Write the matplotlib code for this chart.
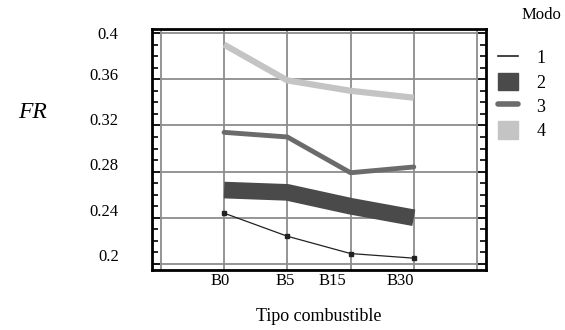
import matplotlib
matplotlib.use("Agg")
import matplotlib.pyplot as plt
import matplotlib.transforms as mtransforms
from matplotlib.lines import Line2D
from matplotlib.patches import Patch
import numpy as np

plt.rcParams['font.family'] = ['Liberation Serif', 'DejaVu Serif']

# data
fuels = ['B0', 'B5', 'B15', 'B30']
modo_1 = [0.244, 0.224, 0.209, 0.205]
modo_2 = [0.264, 0.262, 0.250, 0.240]
modo_3 = [0.314, 0.310, 0.279, 0.284]
modo_4 = [0.390, 0.359, 0.350, 0.344]
modes = ['1', '2', '3', '4']
y_ticks = [0.2, 0.24, 0.28, 0.32, 0.36, 0.4]
y_tick_labels = ['0.2', '0.24', '0.28', '0.32', '0.36', '0.4']

fig = plt.figure(figsize=(5.65, 3.30), dpi=100)
ax = fig.add_axes([0.269, 0.182, 0.591, 0.730])

x = np.arange(1, len(fuels) + 1)

ax.plot(x, modo_2, color='#4a4a4a', lw=12, solid_capstyle='butt', zorder=3)
ax.plot(x, modo_3, color='#6b6b6b', lw=3.5, solid_capstyle='round', zorder=3)
ax.plot(x, modo_4, color='#c4c4c4', lw=4.5, solid_capstyle='butt', zorder=3)
ax.plot(x, modo_1, color='#222222', lw=0.9, marker='s', ms=3, zorder=4)

ax.set_xlim(-0.14, 5.14)
ax.set_ylim(0.1948, 0.4035)

ax.set_xticks(np.arange(0, 6))
ax.set_xticklabels([''] + fuels + [''], fontsize=12)
ax.set_yticks(y_ticks)
ax.set_yticklabels(y_tick_labels, fontsize=12)
ax.set_yticks(np.arange(0.2, 0.4001, 0.01), minor=True)

ax.grid(True, which='major', color='#8c8c8c', lw=1.3)
ax.tick_params(axis='x', length=0, pad=2)
ax.tick_params(axis='y', which='both', direction='in', left=True, right=True,
               width=1.2, color='black')
ax.tick_params(axis='y', which='major', length=6, pad=24)
ax.tick_params(axis='y', which='minor', length=4)
for sp in ax.spines.values():
    sp.set_linewidth(2)

# nudge tick labels like the original
y_shift = [9, 8, 8, 6, 5, 0]
for lbl, dy in zip(ax.get_yticklabels(), y_shift):
    lbl.set_transform(lbl.get_transform() +
                      mtransforms.ScaledTranslation(0, dy / 100, fig.dpi_scale_trans))
x_shift = [0, -4, -2, -18, -14, 0]
for lbl, dx in zip(ax.get_xticklabels(), x_shift):
    lbl.set_transform(lbl.get_transform() +
                      mtransforms.ScaledTranslation(dx / 100, 0, fig.dpi_scale_trans))

ax.set_xlabel('Tipo combustible', fontsize=13, labelpad=14)
fig.text(0.058, 0.66, 'FR', fontsize=17, style='italic', ha='center', va='center')
fig.text(0.958, 0.955, 'Modo', fontsize=12, ha='center', va='center')

handles = [
    Line2D([], [], color='#222222', lw=1.2),
    Patch(color='#4a4a4a'),
    Line2D([], [], color='#6b6b6b', lw=4, solid_capstyle='round'),
    Patch(color='#c4c4c4'),
]
fig.legend(handles, modes, loc='upper left', bbox_to_anchor=(0.866, 0.88),
           frameon=False, fontsize=13, handlelength=1.1, handleheight=1.1,
           handletextpad=1.0, labelspacing=0.3, borderpad=0)

fig.savefig('out.png', dpi=100)
